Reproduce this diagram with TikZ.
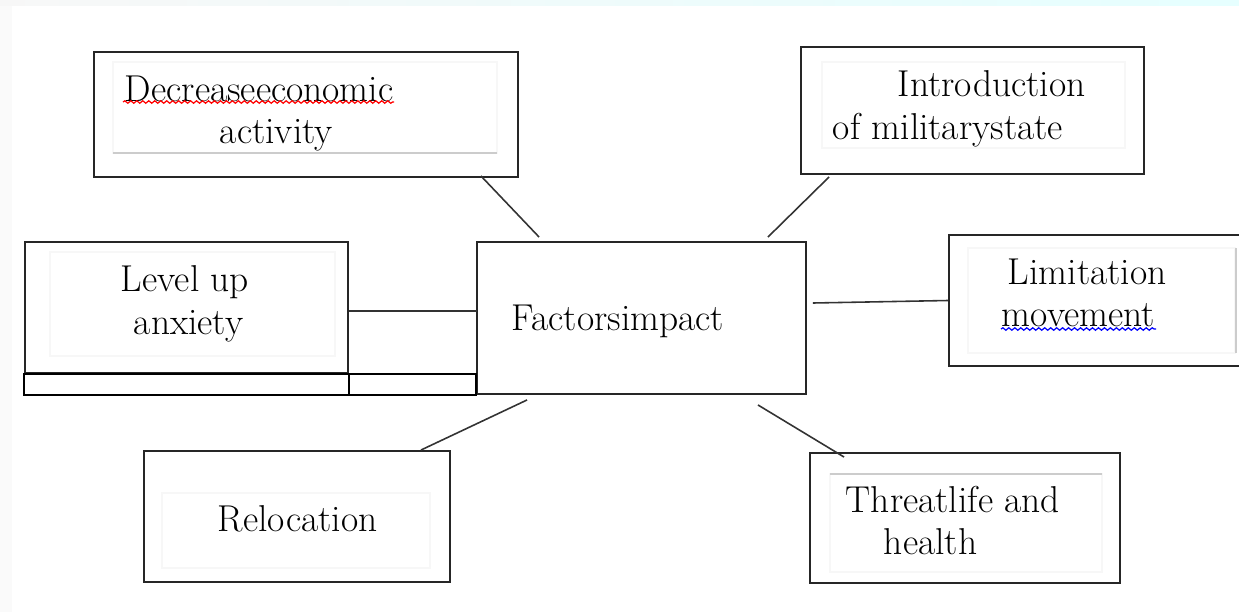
\documentclass[tikz,border=0pt]{standalone}
\usetikzlibrary{calc,positioning,decorations.pathmorphing}
\begin{document}
\begin{tikzpicture}[x=0.02cm,y=-0.02cm,line width=1.1pt,
		box/.style={draw=black!85,rectangle,inner sep=0pt},
		ghost/.style={draw=black!3,line width=0.6pt},
		rule/.style={draw=black!20,line width=0.8pt},
		link/.style={draw=black!80,line width=0.9pt},
		spell/.style={draw=#1,line width=0.7pt,decorate,
			decoration={snake,amplitude=0.7pt,segment length=3.4pt}}]
		\tikzstyle{txt}=[anchor=north west,inner sep=0pt,align=left,
			font=\fontsize{21.3}{24}\selectfont]
		
		\useasboundingbox (0,0) rectangle (1239,612);
		\fill[black!2] (0,0) rectangle (12,612);
		\fill[left color=black!3,right color=cyan!10!white] (0,0) rectangle (1239,5);
		
		\node[box,minimum width=8.48cm,minimum height=2.5cm]  (dec)     at (306,114.5)  {};
		\node[box,minimum width=6.86cm,minimum height=2.54cm] (intro)   at (972.5,110.5) {};
		\node[box,minimum width=6.46cm,minimum height=2.62cm] (level)   at (186.5,307.5) {};
		\node[box,minimum width=6.58cm,minimum height=3.04cm] (factors) at (641.5,318)   {};
		\node[box,minimum width=5.92cm,minimum height=2.62cm] (limit)   at (1097,300.5)  {};
		\node[box,minimum width=6.12cm,minimum height=2.62cm] (reloc)   at (297,516.5)   {};
		\node[box,minimum width=6.2cm,minimum height=2.6cm]   (threat)  at (965,518)     {};
		
		\draw[ghost] (113,62) rectangle (497,153);
		\draw[ghost] (822,62) rectangle (1125,148);
		\draw[ghost] (50,252) rectangle (335,356);
		\draw[ghost] (968,248) rectangle (1235,353);
		\draw[ghost] (162,493) rectangle (430,568);
		\draw[ghost] (830,474) rectangle (1102,572);
		\draw[rule] (113,153) -- (497,153);
		\draw[rule] (1236,248) -- (1236,353);
		\draw[rule] (830,474) -- (1102,474);
		
		\node[txt] (dec-t)     at (124,75)  {Decreaseeconomic\\\hspace*{1.9cm}activity};
		\node[txt] (intro-t)   at (832,70)  {\hspace*{1.3cm}Introduction\\of militarystate};
		\node[txt] (level-t)   at (120,265) {Level up\\\hspace*{0.26cm}anxiety};
		\node[txt] (factors-t) at (511,304) {Factorsimpact};
		\node[txt] (limit-t)   at (1001,258) {\hspace*{0.12cm}Limitation\\movement};
		\node[txt] (reloc-t)   at (217,505) {Relocation};
		\node[txt] (threat-t)  at (845,485) {Threatlife and\\\hspace*{0.76cm}health};
		
		\draw[spell=red] (123,102) -- (394,102);
		\draw[spell=blue] (1001,329) -- (1156,329);
		
		\coordinate (tie) at (477,311);
		\draw (level.south west) rectangle (factors.south west);
		\draw (level.south east) -- (level.south east |- factors.south);
		\draw[link] (level.east |- tie) -- (tie);
		
		\draw[link] ($(dec.south east)+(-38,-2)$) -- ($(factors.north west)+(63,-4)$);
		\draw[link] ($(intro.south west)+(29,2)$) -- ($(factors.north east)+(-39,-4)$);
		\draw[link] ($(factors.east)+(6,-15)$) -- (limit.west);
		\draw[link] ($(factors.south west)+(51,5)$) -- ($(reloc.north east)+(-30,0)$);
		\draw[link] ($(factors.south east)+(-49,10)$) -- ($(threat.north west)+(35,5)$);
\end{tikzpicture}
\end{document}
